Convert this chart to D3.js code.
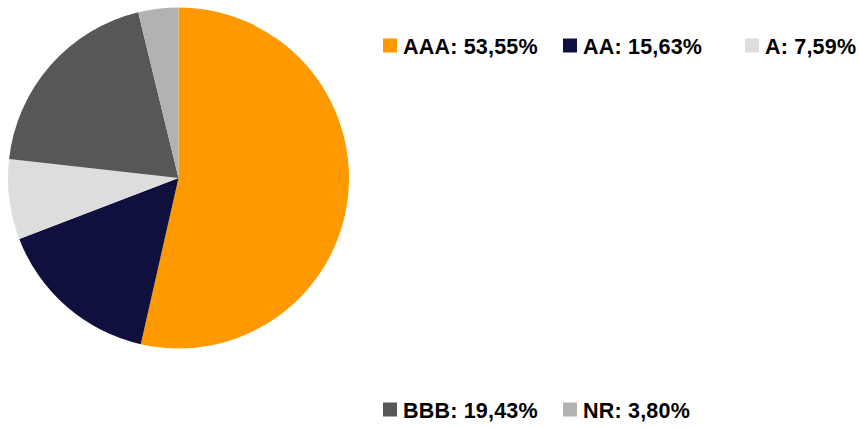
<!DOCTYPE html>
<html>
<head>
<meta charset="utf-8">
<script src="https://cdn.jsdelivr.net/npm/d3@7"></script>
<style>
  body { margin: 0; background: #fff; }
  svg { display: block; }
</style>
</head>
<body>
<div id="chart"></div>
<script>
// rating buckets, share of portfolio
var ratings = ["AAA", "AA", "A", "BBB", "NR"];
var shares = [53.55, 15.63, 7.59, 19.43, 3.80];
var labels = ["AAA: 53,55%", "AA: 15,63%", "A: 7,59%", "BBB: 19,43%", "NR: 3,80%"];
var colors = ["#ff9900", "#10103f", "#dddddd", "#575757", "#b2b2b2"];

var width = 859, height = 428;
var cx = 178.5, cy = 178, r = 170.5;

var svg = d3.select("#chart").append("svg")
    .attr("width", width)
    .attr("height", height);

var data = ratings.map(function(d, i) {
    return { rating: d, value: shares[i], label: labels[i] };
});

var color = d3.scaleOrdinal().domain(ratings).range(colors);

// start at 12 o'clock, clockwise, keep given order
var pie = d3.pie().sort(null).value(function(d) { return d.value; });
var arc = d3.arc().innerRadius(0).outerRadius(r);

svg.append("g")
    .attr("transform", "translate(" + cx + "," + cy + ")")
  .selectAll("path")
    .data(pie(data))
    .enter()
    .append("path")
    .attr("d", arc)
    .attr("fill", function(d) { return color(d.data.rating); });

// legend: 3 on top row, 2 on bottom row
var colX = [383, 563, 745];
var rowY = [46, 410];

var item = svg.append("g").selectAll("g")
    .data(data)
    .enter()
    .append("g")
    .attr("transform", function(d, i) {
        var row = i < 3 ? 0 : 1;
        var col = i < 3 ? i : i - 3;
        return "translate(" + colX[col] + "," + rowY[row] + ")";
    });

item.append("rect")
    .attr("x", 0)
    .attr("y", -7.5)
    .attr("width", 14)
    .attr("height", 14)
    .attr("fill", function(d) { return color(d.rating); });

item.append("text")
    .attr("x", 20)
    .attr("y", 7.5)
    .style("font-family", "'Liberation Sans', Arial, sans-serif")
    .style("font-weight", "bold")
    .style("font-size", "21.5px")
    .style("letter-spacing", "0.2px")
    .style("fill", "#000")
    .text(function(d) { return d.label; });
</script>
</body>
</html>
